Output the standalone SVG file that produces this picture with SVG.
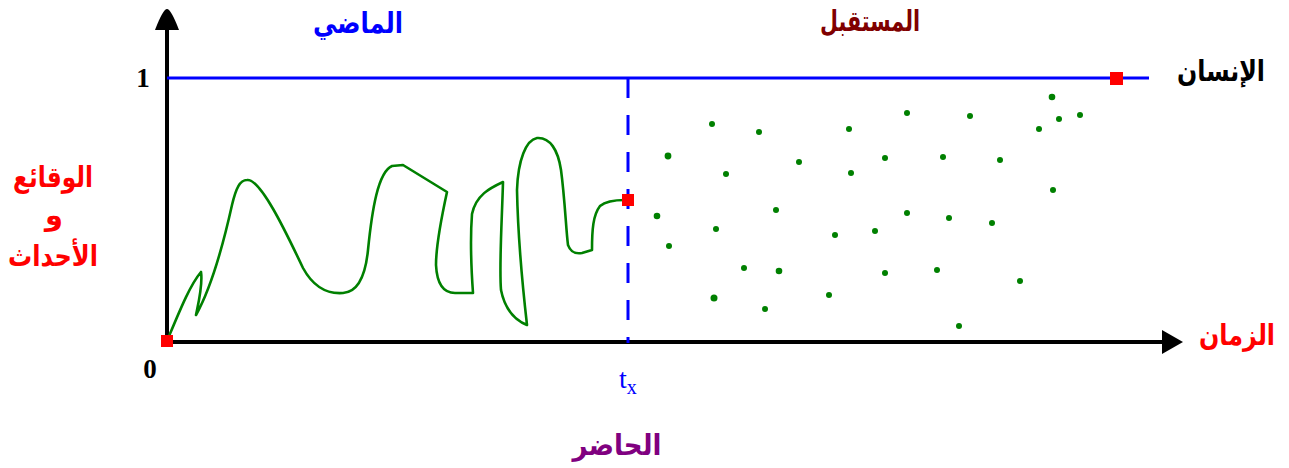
<svg xmlns="http://www.w3.org/2000/svg" width="1289" height="468" viewBox="0 0 1289 468">
<style>
.ar{font-family:"DejaVu Sans","Noto Sans",sans-serif;font-weight:bold;font-size:29px;text-anchor:middle}
.num{font-family:"Liberation Serif",serif;font-weight:bold;font-size:27px;text-anchor:middle}
.axis{stroke:#000;stroke-width:4;fill:none}
.dot{fill:#008000}
.mark{fill:#ff0000}
</style>
<rect width="1289" height="468" fill="#ffffff"/>
<g id="axes">
<line class="axis" x1="167" y1="343" x2="167" y2="26"/>
<path d="M167,9 Q163,9 155,30 L179,30 Q171,9 167,9 Z" fill="#000"/>
<line class="axis" x1="165" y1="342" x2="1166" y2="342"/>
<path d="M1162,330 L1183,342 L1162,354 Z" fill="#000"/>
</g>
<g id="human-line">
<line x1="167" y1="78" x2="1149" y2="78" stroke="#0000ff" stroke-width="3"/>
</g>
<g id="present-line">
<line x1="628" y1="78" x2="628" y2="343" stroke="#0000ff" stroke-width="3" stroke-dasharray="20,17"/>
</g>
<g id="past-curve">
<path d="M167,341 C180,310 190,285 201,272 C203,285 198,305 196,315 C210,290 222,250 232,205 C236,188 240,180 247,180 C260,178 285,230 303,268 C315,290 330,294 343,293 C360,292 366,270 368,250 C372,210 378,172 392,166 L403,165 L447,192 C442,215 436,245 436,265 C437,285 444,293 455,293 L473,293 C471,265 470,240 472,214 C476,195 490,188 503,182 C502,220 499,265 501,290 C505,310 515,320 527,325 C523,290 518,240 517,190 C518,160 526,140 537,138 C550,137 558,150 561,170 C565,200 566,230 568,245 C571,253 576,254 582,253 L592,250 C592,230 593,215 600,206 C606,201 614,200 625,200" fill="none" stroke="#008000" stroke-width="2.6" stroke-linejoin="round"/>
</g>
<g id="future-dots">
<circle class="dot" cx="712" cy="124" r="3"/>
<circle class="dot" cx="759" cy="132" r="3"/>
<circle class="dot" cx="849" cy="129" r="3"/>
<circle class="dot" cx="907" cy="113" r="3"/>
<circle class="dot" cx="668" cy="156" r="3.4"/>
<circle class="dot" cx="799" cy="162" r="3"/>
<circle class="dot" cx="885" cy="158" r="3"/>
<circle class="dot" cx="943" cy="157" r="3"/>
<circle class="dot" cx="726" cy="174" r="3"/>
<circle class="dot" cx="851" cy="173" r="3"/>
<circle class="dot" cx="657" cy="216" r="3.3"/>
<circle class="dot" cx="776" cy="210" r="3"/>
<circle class="dot" cx="907" cy="213" r="3"/>
<circle class="dot" cx="949" cy="218" r="3"/>
<circle class="dot" cx="716" cy="229" r="3"/>
<circle class="dot" cx="835" cy="235" r="3"/>
<circle class="dot" cx="875" cy="231" r="3"/>
<circle class="dot" cx="669" cy="246" r="3"/>
<circle class="dot" cx="744" cy="268" r="3"/>
<circle class="dot" cx="779" cy="271" r="3.3"/>
<circle class="dot" cx="885" cy="273" r="3"/>
<circle class="dot" cx="937" cy="270" r="3"/>
<circle class="dot" cx="714" cy="298" r="3.5"/>
<circle class="dot" cx="829" cy="295" r="3"/>
<circle class="dot" cx="765" cy="309" r="3"/>
<circle class="dot" cx="970" cy="116" r="3"/>
<circle class="dot" cx="1052" cy="97" r="3.3"/>
<circle class="dot" cx="1059" cy="119" r="3"/>
<circle class="dot" cx="1080" cy="115" r="3"/>
<circle class="dot" cx="1039" cy="129" r="3"/>
<circle class="dot" cx="1000" cy="160" r="3"/>
<circle class="dot" cx="1053" cy="190" r="3"/>
<circle class="dot" cx="992" cy="223" r="3"/>
<circle class="dot" cx="1020" cy="281" r="3"/>
<circle class="dot" cx="959" cy="326" r="3"/>
</g>
<g id="markers">
<rect class="mark" x="161" y="335" width="12" height="12"/>
<rect class="mark" x="622" y="194" width="12" height="12"/>
<rect class="mark" x="1110" y="72" width="13" height="13"/>
</g>
<g id="labels">
<text class="ar" x="358" y="33" fill="#0000ff" textLength="90" lengthAdjust="spacingAndGlyphs">الماضي</text>
<text class="ar" x="870" y="31" fill="#800000" textLength="100" lengthAdjust="spacingAndGlyphs">المستقبل</text>
<text class="ar" x="1221" y="81" fill="#000000" textLength="88" lengthAdjust="spacingAndGlyphs">الإنسان</text>
<text class="ar" x="1237" y="345" fill="#ff0000" textLength="76" lengthAdjust="spacingAndGlyphs">الزمان</text>
<text class="ar" x="53" y="187" fill="#ff0000" textLength="80" lengthAdjust="spacingAndGlyphs">الوقائع</text>
<text class="ar" x="54" y="225" fill="#ff0000">و</text>
<text class="ar" x="53" y="266" fill="#ff0000" textLength="90" lengthAdjust="spacingAndGlyphs">الأحداث</text>
<text class="ar" x="617" y="455" fill="#800080" textLength="89" lengthAdjust="spacingAndGlyphs">الحاضر</text>
<text class="num" x="143" y="87">1</text>
<text class="num" x="150" y="378">0</text>
<text x="619" y="388" font-family="Liberation Serif,serif" font-size="28" fill="#0000ff">t<tspan font-size="20" dy="6">x</tspan></text>
</g>
</svg>
